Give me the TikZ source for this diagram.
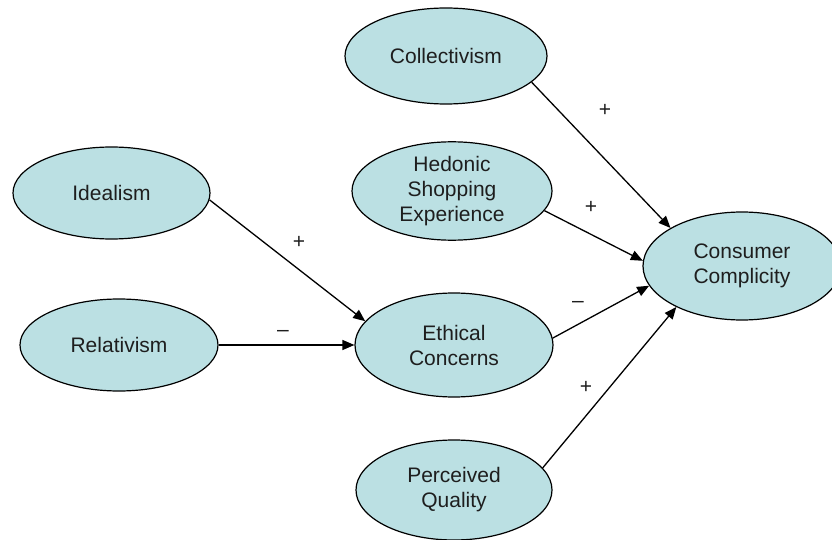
\documentclass[tikz,border=0pt]{standalone}
\usepackage{fontspec}
\setmainfont{Liberation Sans}
\usetikzlibrary{shapes.geometric,arrows.meta}
\definecolor{bubble}{RGB}{187,224,227}
\definecolor{ink}{RGB}{30,30,30}
\begin{document}
\begin{tikzpicture}[x=1pt,y=-1pt,
  construct/.style={ellipse,draw=black,line width=1.2pt,fill=bubble,inner sep=0pt,
    text=ink,align=center,font=\fontsize{21}{25}\selectfont},
  link/.style={line width=1.3pt,-{Triangle[length=12pt,width=10pt]}},
  sign/.style={text=ink,font=\fontsize{21}{24}\selectfont,inner sep=0pt}]
\useasboundingbox (0,0) rectangle (832,540);
\node[construct,minimum width=202pt,minimum height=96pt] (coll) at (446,56) {Collectivism};
\node[construct,minimum width=200pt,minimum height=98pt] (hed) at (452,191) {Hedonic\\Shopping\\Experience};
\node[construct,minimum width=197pt,minimum height=92pt] (ideal) at (111.5,193) {Idealism};
\node[construct,minimum width=198pt,minimum height=92pt] (rel) at (119,345) {Relativism};
\node[construct,minimum width=198pt,minimum height=104pt] (eth) at (454,345) {Ethical\\Concerns};
\node[construct,minimum width=196pt,minimum height=100pt] (perc) at (454,490) {Perceived\\Quality};
\node[construct,minimum width=198pt,minimum height=108pt] (cons) at (742,266) {Consumer\\Complicity};
\draw[link] (coll.-17) -- (cons.152.8);
\draw[link] (hed.-12) -- (cons.177);
\draw[link] (ideal.-4.7) -- (eth.165.4);
\draw[link] (rel.east) -- (eth.west);
\draw[link] (eth.4.7) -- (cons.-168.5);
\draw[link] (perc.14.5) -- (cons.-148.5);
\node[sign] (s1) at (605,110) {+};
\node[sign] (s2) at (591,207) {+};
\node[sign] (s3) at (299,242) {+};
\node[sign] (s4) at (283,333) {--};
\node[sign] (s5) at (578,304) {--};
\node[sign] (s6) at (586,387) {+};
\end{tikzpicture}
\end{document}
